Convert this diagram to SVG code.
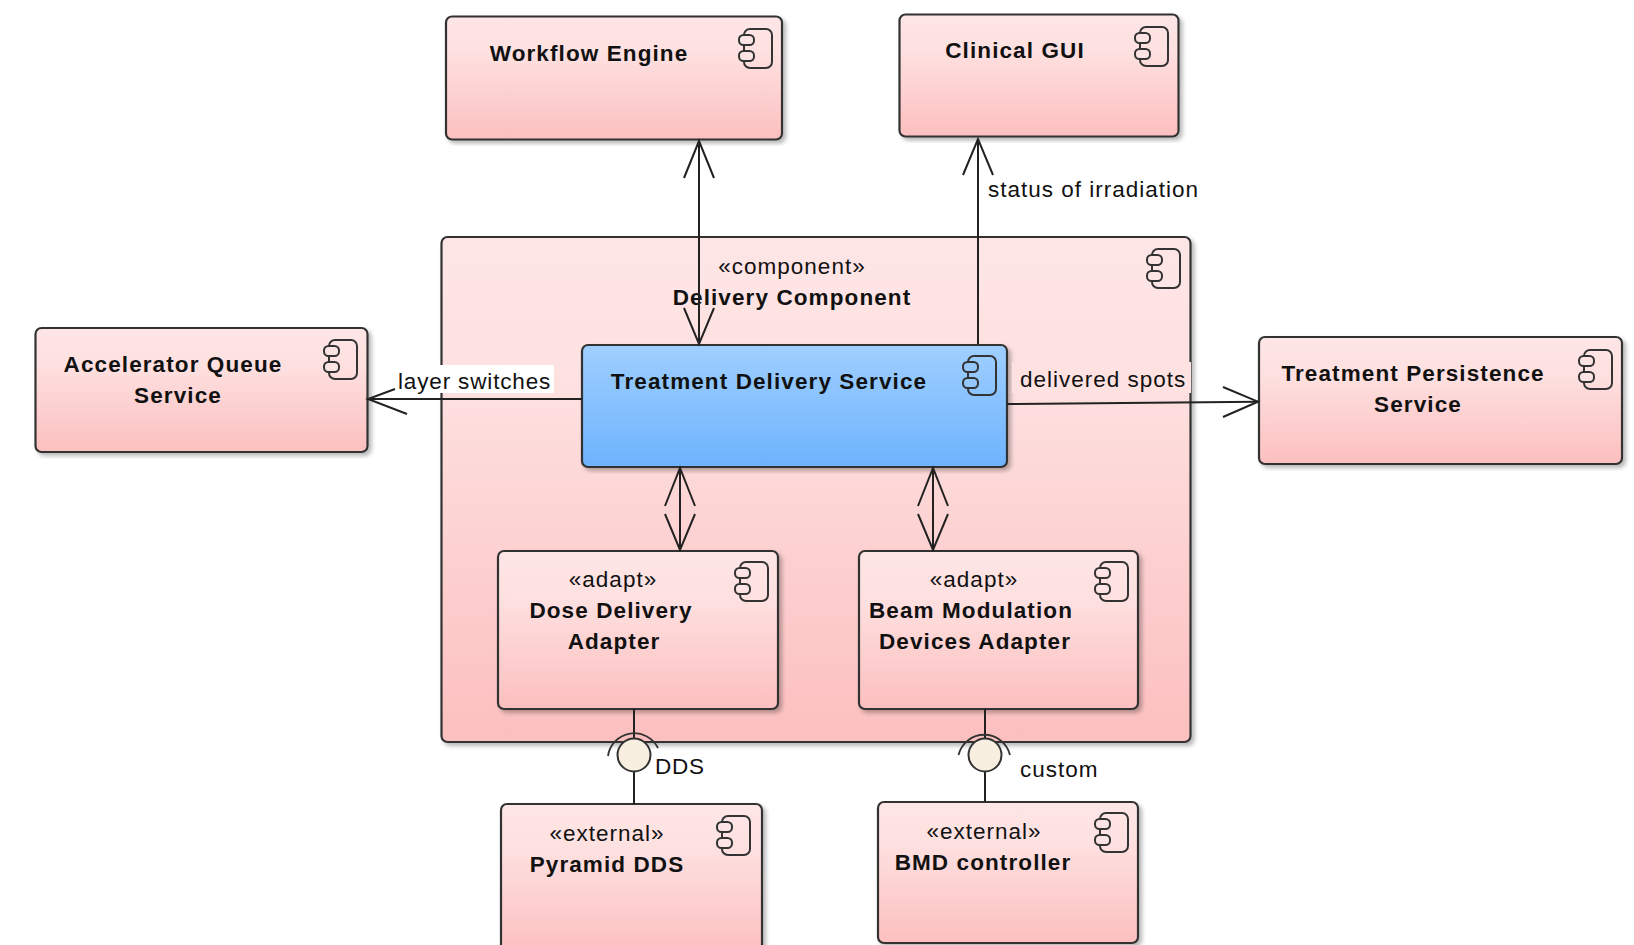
<svg xmlns="http://www.w3.org/2000/svg" width="1634" height="945" viewBox="0 0 1634 945">
<style>
.n{stroke:#333;stroke-width:2.200;fill:url(#pink);filter:url(#sh)}
.i{fill:none;stroke:#333;stroke-width:2}
text{font-family:"Liberation Sans",Arial,sans-serif;font-size:22.5px;fill:#111;letter-spacing:1px}
.t{font-weight:bold;text-anchor:middle;letter-spacing:1.1px}
.s{text-anchor:middle}
.c{fill:none;stroke:#222;stroke-width:2}
.h{fill:none;stroke:#222;stroke-width:2}
.a{fill:none;stroke:#333;stroke-width:1.800}
</style>
<defs>
<linearGradient id="pink" x1="0" y1="0" x2="0" y2="1"><stop offset="0" stop-color="#fee6e6"/><stop offset="0.3" stop-color="#fee0e0"/><stop offset="1" stop-color="#fcbfbf"/></linearGradient>
<linearGradient id="blue" x1="0" y1="0" x2="0" y2="1"><stop offset="0" stop-color="#9fcfff"/><stop offset="1" stop-color="#6eb3fd"/></linearGradient>
<filter id="sh" x="-5%" y="-5%" width="110%" height="110%"><feDropShadow dx="3" dy="3" stdDeviation="2" flood-color="#000" flood-opacity="0.28"/></filter>
<g id="ic">
<rect x="5" y="0" width="28" height="39" rx="6" class="i"/>
<rect x="0" y="6" width="15" height="10" rx="4.500" style="fill:#fde4e4;stroke:#333;stroke-width:2"/>
<rect x="0" y="22" width="15" height="10" rx="4.500" style="fill:#fde4e4;stroke:#333;stroke-width:2"/>
</g>
<g id="icb">
<rect x="5" y="0" width="28" height="39" rx="6" class="i"/>
<rect x="0" y="6" width="15" height="10" rx="4.500" style="fill:#93c7fe;stroke:#333;stroke-width:2"/>
<rect x="0" y="22" width="15" height="10" rx="4.500" style="fill:#93c7fe;stroke:#333;stroke-width:2"/>
</g>
</defs>
<rect width="1634" height="945" fill="#fff"/>
<g id="delivery-component">
<rect class="n" x="441.500" y="237" width="749" height="505" rx="6"/>
<use href="#ic" x="1147" y="249"/>
<text class="s" x="792" y="274">«component»</text>
<text class="t" x="792" y="305">Delivery Component</text>
</g>
<g id="workflow-engine">
<rect class="n" x="446" y="16.500" width="336" height="123" rx="6"/>
<use href="#ic" x="739" y="29"/>
<text class="t" x="589" y="61">Workflow Engine</text>
</g>
<g id="clinical-gui">
<rect class="n" x="899.500" y="14.500" width="279" height="122" rx="6"/>
<use href="#ic" x="1135" y="27"/>
<text class="t" x="1015" y="58">Clinical GUI</text>
</g>
<g id="accelerator-queue-service">
<rect class="n" x="35.500" y="328" width="332" height="124" rx="6"/>
<use href="#ic" x="324" y="340"/>
<text class="t" x="173" y="372">Accelerator Queue</text>
<text class="t" x="178" y="403">Service</text>
</g>
<g id="treatment-persistence-service">
<rect class="n" x="1259" y="337" width="363" height="127" rx="6"/>
<use href="#ic" x="1579" y="350"/>
<text class="t" x="1413" y="381">Treatment Persistence</text>
<text class="t" x="1418" y="412">Service</text>
</g>
<g id="treatment-delivery-service">
<rect class="n" x="582" y="345" width="425" height="122" rx="6" style="fill:url(#blue)"/>
<use href="#icb" x="963" y="356"/>
<text class="t" x="769" y="389">Treatment Delivery Service</text>
</g>
<g id="dose-delivery-adapter">
<rect class="n" x="498" y="551" width="280" height="158" rx="6"/>
<use href="#ic" x="735" y="562"/>
<text class="s" x="613" y="587">«adapt»</text>
<text class="t" x="611" y="618">Dose Delivery</text>
<text class="t" x="614" y="649">Adapter</text>
</g>
<g id="beam-modulation-devices-adapter">
<rect class="n" x="859" y="551" width="279" height="158" rx="6"/>
<use href="#ic" x="1095" y="562"/>
<text class="s" x="974" y="587">«adapt»</text>
<text class="t" x="971" y="618">Beam Modulation</text>
<text class="t" x="975" y="649">Devices Adapter</text>
</g>
<g id="pyramid-dds">
<rect class="n" x="501" y="804" width="261" height="150" rx="6"/>
<use href="#ic" x="717" y="816"/>
<text class="s" x="607" y="841">«external»</text>
<text class="t" x="607" y="872">Pyramid DDS</text>
</g>
<g id="bmd-controller">
<rect class="n" x="878" y="802" width="260" height="141" rx="6"/>
<use href="#ic" x="1095" y="813"/>
<text class="s" x="984" y="839">«external»</text>
<text class="t" x="983" y="870">BMD controller</text>
</g>
<g id="connectors">
<path class="c" d="M699 141V344"/>
<path class="h" d="M684 178L699 141L714 178M684 308L699 344L714 308"/>
<path class="c" d="M978 139V344"/>
<path class="h" d="M963 175L978 139L993 175"/>
<path class="c" d="M582 399H369"/>
<path class="h" d="M395 389L368 399L407 414"/>
<path class="c" d="M1007 404L1258 401.700"/>
<path class="h" d="M1223 387L1258 401.700L1223 417"/>
<path class="c" d="M680 468V550"/>
<path class="h" d="M665 506L680 468L695 506M665 514L680 550L695 514"/>
<path class="c" d="M933 468V550"/>
<path class="h" d="M918 506L933 468L948 506M918 514L933 550L948 514"/>
<path class="c" d="M634 709V760M634 772V804"/>
<path class="c" d="M985 709V760M985 772V802"/>
<path class="a" d="M608 756A26.500 26.500 0 0 1 658 748"/>
<path class="a" d="M958.500 755A26.500 26.500 0 0 1 1010 755"/>
<circle cx="634" cy="755" r="16.500" fill="#f9efe0" stroke="#333" stroke-width="2"/>
<circle cx="985" cy="755" r="16.500" fill="#f9efe0" stroke="#333" stroke-width="2"/>
</g>
<g id="labels">
<text x="988" y="197">status of irradiation</text>
<rect x="396" y="365" width="158" height="28" fill="#fff"/>
<text x="398" y="389" style="letter-spacing:0.85px">layer switches</text>
<rect x="1012" y="362" width="179" height="31" fill="#fee2e2"/>
<text x="1020" y="387">delivered spots</text>
<text x="655" y="774" style="letter-spacing:0.8px">DDS</text>
<text x="1020" y="777">custom</text>
</g>
</svg>
